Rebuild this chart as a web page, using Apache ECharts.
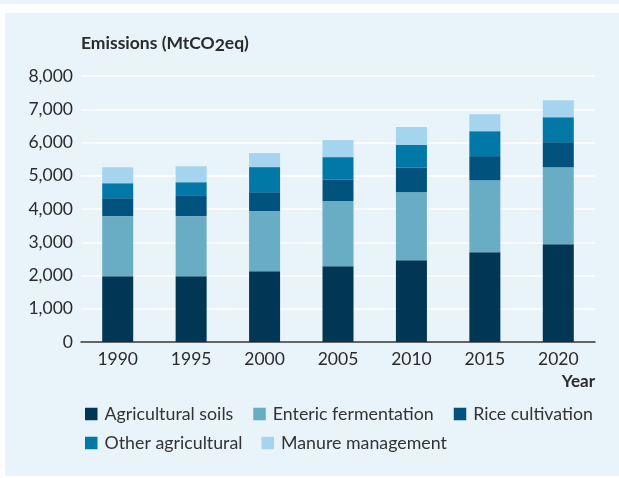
<!DOCTYPE html>
<html>
<head>
<meta charset="utf-8">
<script src="https://cdn.jsdelivr.net/npm/echarts@6/dist/echarts.min.js"></script>
<style>
  html, body { margin: 0; padding: 0; background: #fff; }
  #main { width: 619px; height: 478px; }
</style>
</head>
<body>
<div id="main"></div>
<script>
var years = ['1990', '1995', '2000', '2005', '2010', '2015', '2020'];
var soils = [1980, 1980, 2130, 2280, 2460, 2700, 2940];
var enteric = [1805, 1805, 1805, 1960, 2050, 2170, 2320];
var rice = [540, 630, 570, 640, 730, 720, 750];
var other = [450, 390, 755, 680, 685, 750, 750];
var manure = [480, 480, 420, 510, 540, 510, 510];
var yTicks = [0, 1000, 2000, 3000, 4000, 5000, 6000, 7000, 8000];

var dom = document.getElementById('main');
var myChart = echarts.init(dom);
var font = 'Lato';
var textColor = '#2b2b2b';

function bar(name, data, color) {
    return {
        name: name,
        type: 'bar',
        stack: 'total',
        barWidth: 31,
        itemStyle: { color: color },
        emphasis: { disabled: true },
        data: data
    };
}

function legendRow(top, gap, names) {
    return {
        left: 85,
        top: top,
        padding: 0,
        itemWidth: 12.5,
        itemHeight: 12.5,
        icon: 'rect',
        itemGap: gap,
        data: names,
        textStyle: { fontFamily: font, fontSize: 17.8, color: '#333', padding: [0, 0, 0, 2] }
    };
}

var option = {
    animation: false,
    backgroundColor: '#fff',
    graphic: [
        { type: 'rect', shape: { x: 0, y: 0, width: 619, height: 4 }, style: { fill: '#e8f3fa' }, z: -10 },
        { type: 'rect', shape: { x: 5, y: 13, width: 614, height: 463 }, style: { fill: '#e8f3fa' }, z: -10 }
    ],
    title: {
        text: 'Emissions (MtCO{sub|2}eq)',
        left: 81,
        top: 32,
        padding: 0,
        textStyle: {
            fontFamily: font,
            fontSize: 17.5,
            fontWeight: 'bold',
            color: textColor,
            rich: {
                sub: { fontFamily: font, fontSize: 17.5, fontWeight: 'bold', color: textColor, padding: [4, 0, 0, 0] }
            }
        }
    },
    legend: [
        legendRow(405, 20, ['Agricultural soils', 'Enteric fermentation', 'Rice cultivation']),
        legendRow(434, 19, ['Other agricultural', 'Manure management'])
    ],
    grid: { left: 81, right: 24, top: 76, bottom: 136, containLabel: false },
    xAxis: {
        type: 'category',
        data: years,
        name: 'Year',
        nameLocation: 'end',
        nameGap: 0,
        nameTextStyle: {
            fontFamily: font, fontSize: 17, fontWeight: 'bold', color: textColor,
            align: 'right', verticalAlign: 'top', padding: [31, 0, 0, 0]
        },
        axisLine: { lineStyle: { color: '#333', width: 1.5 } },
        axisTick: { show: false },
        axisLabel: { fontFamily: font, fontSize: 17.5, color: textColor, margin: 8 }
    },
    yAxis: {
        type: 'value',
        min: 0,
        max: 8000,
        interval: 1000,
        axisLine: { show: false },
        axisTick: { show: false },
        splitLine: { lineStyle: { color: '#ffffff', width: 1.5 } },
        axisLabel: {
            fontFamily: font, fontSize: 17.5, color: textColor, margin: 8,
            formatter: function (v) { return yTicks.indexOf(v) >= 0 ? v.toLocaleString('en-US') : ''; }
        }
    },
    series: [
        bar('Agricultural soils', soils, '#013654'),
        bar('Enteric fermentation', enteric, '#69adc5'),
        bar('Rice cultivation', rice, '#01527d'),
        bar('Other agricultural', other, '#0178a5'),
        bar('Manure management', manure, '#a4d4ee')
    ]
};

if (option && typeof option === 'object') {
    myChart.setOption(option, true);
}
</script>
</body>
</html>
